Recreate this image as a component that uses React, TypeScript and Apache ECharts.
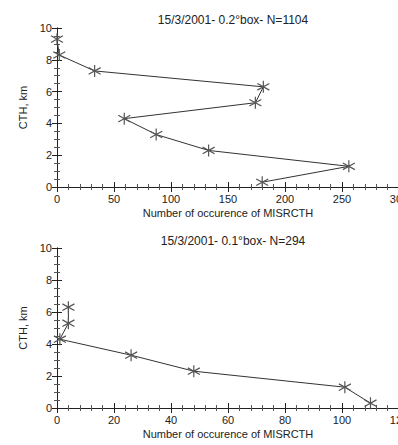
import React, { useEffect, useRef } from "react";
import * as echarts from "echarts";

const heightsTop = [0.3, 1.3, 2.3, 3.3, 4.3, 5.3, 6.3, 7.3, 8.3, 9.3];
const countsTop = [180, 256, 133, 87, 59, 174, 181, 33, 2, 0];
const heightsBottom = [0.3, 1.3, 2.3, 3.3, 4.3, 5.3, 6.3];
const countsBottom = [110, 101, 48, 26, 1, 4, 4];

const titleTop = "15/3/2001- 0.2°box- N=1104";
const titleBottom = "15/3/2001- 0.1°box- N=294";
const xName = "Number of occurence of MISRCTH";
const yName = "CTH, km";

const star = "path://M10,0 L10,20 M1.5,4.5 L18.5,15.5 M1.5,15.5 L18.5,4.5";
const font = "Liberation Sans";
const ink = "#222";

function xAxes(grid: number, max: number, interval: number) {
  const common = {
    gridIndex: grid,
    type: "value",
    min: 0,
    max,
    interval,
    splitLine: { show: false },
    axisLine: { show: true, lineStyle: { color: ink, width: 1 } },
    axisTick: { show: true, inside: true, length: 5, lineStyle: { color: ink } },
    minorTick: { show: true, splitNumber: 5, length: 3, lineStyle: { color: "#555" } },
  };
  return [
    {
      ...common,
      position: "bottom",
      name: xName,
      nameLocation: "middle",
      nameGap: 20,
      nameTextStyle: { fontFamily: font, fontSize: 11, color: ink },
      axisLabel: { fontFamily: font, fontSize: 11, color: ink, margin: 6 },
    },
    { ...common, position: "top", axisLabel: { show: false } },
  ];
}

function yAxes(grid: number) {
  const common = {
    gridIndex: grid,
    type: "value",
    min: 0,
    max: 10,
    interval: 2,
    splitLine: { show: false },
    axisLine: { show: true, lineStyle: { color: ink, width: 1 } },
    axisTick: { show: true, inside: true, length: 5, lineStyle: { color: ink } },
    minorTick: { show: true, splitNumber: 4, length: 3, lineStyle: { color: "#555" } },
  };
  return [
    {
      ...common,
      position: "left",
      name: yName,
      nameLocation: "middle",
      nameGap: 24,
      nameRotate: 90,
      nameTextStyle: { fontFamily: font, fontSize: 11, color: ink },
      axisLabel: { fontFamily: font, fontSize: 11, color: ink, margin: 5 },
    },
    { ...common, position: "right", axisLabel: { show: false } },
  ];
}

function series(xIdx: number, yIdx: number, xs: number[], ys: number[]) {
  return {
    type: "line",
    xAxisIndex: xIdx,
    yAxisIndex: yIdx,
    data: xs.map((x, i) => [x, ys[i]]),
    symbol: star,
    symbolSize: 12,
    showSymbol: true,
    lineStyle: { color: "#333", width: 1 },
    itemStyle: { color: "transparent", borderColor: "#555", borderWidth: 1.2 },
    clip: false,
  };
}

export default function App() {
  const ref = useRef<HTMLDivElement>(null);
  useEffect(() => {
    if (!ref.current) return;
    const chart = echarts.init(ref.current, null, { renderer: "svg" });
    chart.setOption({
      animation: false,
      backgroundColor: "#fff",
      title: [
        {
          text: titleTop,
          left: 228,
          top: 9,
          textAlign: "center",
          textStyle: { fontFamily: font, fontSize: 12, fontWeight: "normal", color: ink },
        },
        {
          text: titleBottom,
          left: 228,
          top: 230,
          textAlign: "center",
          textStyle: { fontFamily: font, fontSize: 12, fontWeight: "normal", color: ink },
        },
      ],
      grid: [
        { left: 57, top: 28, width: 342, height: 159, outerBoundsMode: "none", containLabel: false },
        { left: 57, top: 248, width: 342, height: 160, outerBoundsMode: "none", containLabel: false },
      ],
      xAxis: [...xAxes(0, 300, 50), ...xAxes(1, 120, 20)],
      yAxis: [...yAxes(0), ...yAxes(1)],
      series: [
        series(0, 0, countsTop, heightsTop),
        series(2, 2, countsBottom, heightsBottom),
      ],
    });
    return () => chart.dispose();
  }, []);
  return (
    <div
      ref={ref}
      style={{ position: "absolute", left: 0, top: 0, width: 398, height: 445 }}
    />
  );
}
